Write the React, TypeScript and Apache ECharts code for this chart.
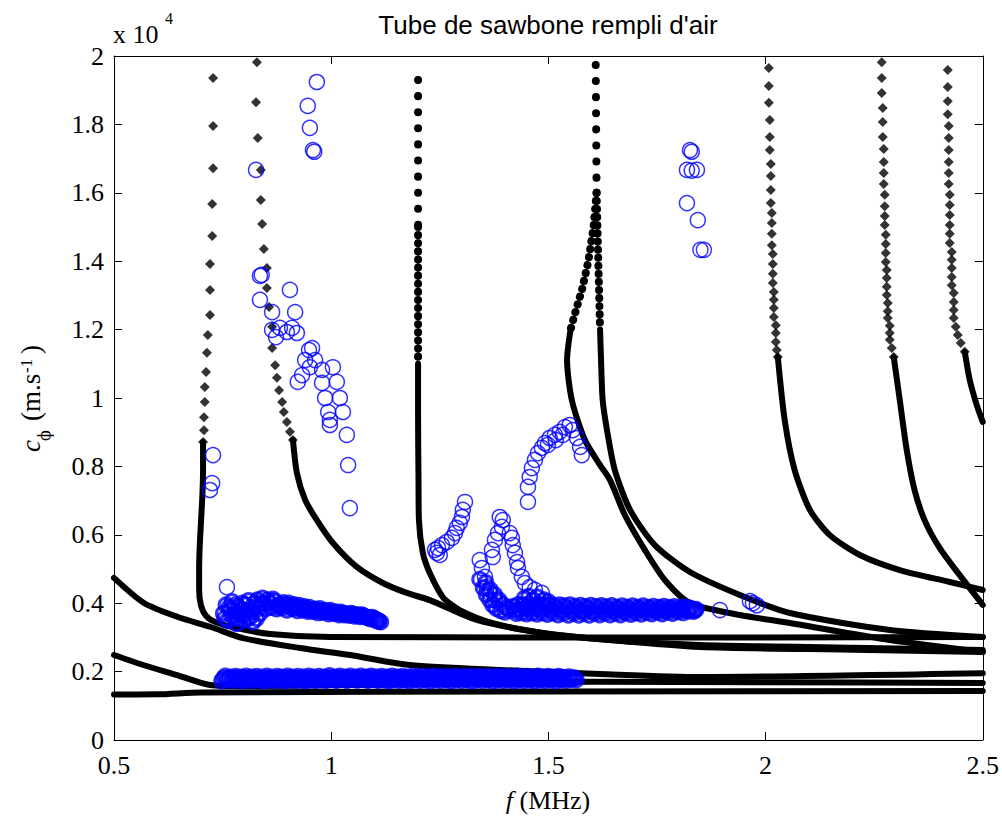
import React, { useEffect, useRef } from "react";
import * as echarts from "echarts";

const TITLE = "Tube de sawbone rempli d'air";
const X_MIN = 0.5, X_MAX = 2.5, X_STEP = 0.5;
const Y_MIN = 0, Y_MAX = 20000, Y_STEP = 2000;

// theoretical dispersion curves [f (MHz), c (m/s)] — individual markers on the steep parts
const dotsK1 = [[0.728,19360],[0.728,17950],[0.728,16720],[0.726,15670],[0.726,14740],[0.721,13920],[0.721,13160],[0.721,12430],[0.716,11840],[0.714,11320],[0.712,10760],[0.709,10320],[0.709,9880],[0.707,9440],[0.707,9060],[0.705,8710]];
const dotsK2 = [[0.829,19820],[0.827,18650],[0.831,17600],[0.838,16670],[0.838,15790],[0.841,15090],[0.845,14360],[0.852,13800],[0.852,13220],[0.857,12660],[0.864,12080],[0.864,11460],[0.871,10960],[0.875,10590],[0.880,10230],[0.887,9880],[0.891,9590],[0.898,9300],[0.905,9010],[0.912,8770]];
const dotsK5 = [[2.0075,19650],[2.0075,19120],[2.0075,18630],[2.0098,18130],[2.0098,17630],[2.0098,17250],[2.0121,16840],[2.0121,16490],[2.0121,16080],[2.0121,15700],[2.0144,15410],[2.0144,15120],[2.0144,14800],[2.0144,14470],[2.0167,14210],[2.0167,13920],[2.0167,13630],[2.0167,13360],[2.0190,13100],[2.0190,12870],[2.0190,12630],[2.0190,12370],[2.0236,12130],[2.0236,11900],[2.0236,11640],[2.0259,11400],[2.0282,11200]];
const dotsK6 = [[2.2675,19820],[2.2675,19360],[2.2675,18920],[2.2698,18480],[2.2698,18070],[2.2698,17630],[2.2721,17280],[2.2721,16900],[2.2721,16580],[2.2721,16260],[2.2744,15940],[2.2744,15610],[2.2744,15320],[2.2744,15060],[2.2767,14770],[2.2767,14500],[2.2767,14240],[2.2767,13980],[2.2790,13740],[2.2790,13510],[2.2790,13250],[2.2790,13010],[2.2813,12780],[2.2813,12540],[2.2813,12340],[2.2859,12110],[2.2859,11900],[2.2859,11700],[2.2905,11460],[2.2951,11200]];
const dotsK7 = [[2.4194,19590],[2.4194,19090],[2.4194,18680],[2.4194,18300],[2.4217,17950],[2.4217,17600],[2.4217,17250],[2.4217,16900],[2.4217,16580],[2.4217,16260],[2.4240,15940],[2.4240,15640],[2.4240,15350],[2.4240,15060],[2.4240,14800],[2.4240,14530],[2.4286,14270],[2.4286,14040],[2.4286,13800],[2.4286,13540],[2.4286,13300],[2.4333,13070],[2.4333,12810],[2.4333,12570],[2.4333,12340],[2.4379,12080],[2.4424,11840],[2.4494,11610],[2.4586,11350]];
// upper parts where the markers are sparse, then where they get closer
const sparseK3 = [[1.200,19300],[1.200,17000],[1.200,15000]];
const closeK3 = [[1.200,15000],[1.200,13000],[1.200,11000]];
const sparseK4 = [[1.609,19740],[1.610,18000],[1.611,16000]];
const closeK4a = [[1.611,16000],[1.604,15000],[1.592,14000],[1.578,13200],[1.562,12500],[1.551,12000]];
const closeK4b = [[1.611,16000],[1.613,15000],[1.615,14000],[1.617,13000],[1.619,12000]];
// dense parts (continuous thick lines)
const lineA = [[0.5,1330],[0.6,1335],[0.7,1390],[1.5,1420],[2.5,1430]];
const lineB = [[0.5,2485],[0.567,2193],[0.645,1900],[0.721,1610],[0.8,1580],[1.0,1600],[1.3,1650],[1.6,1700],[2.0,1690],[2.5,1670]];
const lineC = [[0.5,4740],[0.569,4006],[0.647,3597],[0.723,3304],[0.797,2980],[0.928,2690],[1.043,2485],[1.181,2193],[1.388,2047],[1.619,1930],[1.849,1842],[2.5,1950]];
const lineK1 = [[0.705,8710],[0.705,7890],[0.703,7020],[0.698,5850],[0.696,5060],[0.696,4390],[0.700,3950],[0.712,3630],[0.733,3450],[0.783,3270],[0.859,3100],[0.997,3010],[1.5,3000],[2.0,3000],[2.5,3010]];
const lineK2 = [[0.912,8770],[0.921,7810],[0.940,7020],[0.967,6430],[1.004,5760],[1.059,5060],[1.119,4590],[1.174,4300],[1.227,4090],[1.335,3510],[1.487,3130],[1.642,2924],[1.849,2720],[2.2,2640],[2.5,2573]];
const lineK3 = [[1.200,11000],[1.200,9500],[1.201,7600],[1.202,6430],[1.211,5470],[1.227,4880],[1.257,4180],[1.296,3800],[1.372,3420],[1.487,3130],[1.642,2924],[1.849,2780],[2.2,2700],[2.5,2630]];
const lineK4a = [[1.551,12000],[1.543,11110],[1.554,9940],[1.584,8770],[1.619,8040],[1.642,7600],[1.676,6580],[1.722,5560],[1.768,4680],[1.826,4006],[1.941,3655],[2.056,3421],[2.286,2924],[2.5,2573]];
const lineK4b = [[1.619,12000],[1.621,11200],[1.625,9940],[1.635,9060],[1.653,7890],[1.688,6730],[1.745,5700],[1.826,4912],[1.941,4240],[2.056,3713],[2.286,3216],[2.5,3012]];
const lineK5 = [[2.0282,11200],[2.044,9360],[2.067,7890],[2.102,6730],[2.148,5990],[2.217,5410],[2.309,4970],[2.424,4620],[2.5,4386]];
const lineK6 = [[2.2951,11200],[2.309,9940],[2.325,8480],[2.343,7310],[2.366,6430],[2.401,5610],[2.447,4820],[2.5,3950]];
const lineK7 = [[2.4586,11350],[2.470,10530],[2.486,9800],[2.5,9300]];

// measured points [f (MHz), c (m/s)]
const meas1 = [[0.748,1730],[0.756,1870],[0.764,1800],[0.772,1740],[0.780,1860],[0.788,1790],[0.796,1730],[0.804,1870],[0.812,1800],[0.820,1740],[0.828,1860],[0.836,1790],[0.844,1730],[0.852,1870],[0.860,1800],[0.868,1740],[0.876,1860],[0.884,1790],[0.892,1730],[0.900,1870],[0.908,1800],[0.916,1740],[0.924,1860],[0.932,1790],[0.940,1730],[0.948,1870],[0.956,1800],[0.964,1740],[0.972,1860],[0.980,1790],[0.988,1740],[0.996,1880],[1.004,1800],[1.012,1740],[1.020,1870],[1.028,1800],[1.036,1740],[1.044,1870],[1.052,1800],[1.060,1750],[1.068,1870],[1.076,1800],[1.084,1740],[1.092,1870],[1.100,1800],[1.108,1740],[1.116,1860],[1.124,1790],[1.132,1730],[1.140,1870],[1.148,1800],[1.156,1740],[1.164,1860],[1.172,1790],[1.180,1730],[1.188,1870],[1.196,1800],[1.204,1740],[1.212,1860],[1.220,1790],[1.228,1730],[1.236,1870],[1.244,1800],[1.252,1740],[1.260,1860],[1.268,1790],[1.276,1730],[1.284,1870],[1.292,1800],[1.300,1740],[1.308,1860],[1.316,1790],[1.324,1730],[1.332,1870],[1.340,1800],[1.348,1740],[1.356,1860],[1.364,1790],[1.372,1730],[1.380,1870],[1.388,1800],[1.396,1740],[1.404,1860],[1.412,1790],[1.420,1730],[1.428,1870],[1.436,1800],[1.444,1740],[1.452,1860],[1.460,1790],[1.468,1730],[1.476,1870],[1.484,1800],[1.492,1740],[1.500,1860],[1.508,1790],[1.516,1730],[1.524,1860],[1.532,1790],[1.540,1740],[1.548,1850],[1.556,1790],[1.564,1760]];
const meas1b = [[0.752,1800],[0.760,1760],[0.768,1840],[0.776,1800],[0.784,1760],[0.792,1840],[0.800,1800],[0.808,1760],[0.816,1840],[0.824,1800],[0.832,1760],[0.840,1840],[0.848,1800],[0.856,1760],[0.864,1840],[0.872,1800],[0.880,1760],[0.888,1840],[0.896,1800],[0.904,1760],[0.912,1840],[0.920,1800],[0.928,1760],[0.936,1840],[0.944,1800],[0.952,1760],[0.960,1840],[0.968,1800],[0.976,1760],[0.984,1840],[0.992,1800],[1.000,1770],[1.008,1840],[1.016,1810],[1.024,1770],[1.032,1840],[1.040,1810],[1.048,1770],[1.056,1840],[1.064,1810],[1.072,1770],[1.080,1840],[1.088,1810],[1.096,1770],[1.104,1840],[1.112,1800],[1.120,1760],[1.128,1840],[1.136,1800],[1.144,1760],[1.152,1840],[1.160,1800],[1.168,1760],[1.176,1840],[1.184,1800],[1.192,1760],[1.200,1840],[1.208,1800],[1.216,1760],[1.224,1840],[1.232,1800],[1.240,1760],[1.248,1840],[1.256,1800],[1.264,1760],[1.272,1840],[1.280,1800],[1.288,1760],[1.296,1840],[1.304,1800],[1.312,1760],[1.320,1840],[1.328,1800],[1.336,1760],[1.344,1840],[1.352,1800],[1.360,1760],[1.368,1840],[1.376,1800],[1.384,1760],[1.392,1840],[1.400,1800],[1.408,1760],[1.416,1840],[1.424,1800],[1.432,1760],[1.440,1840],[1.448,1800],[1.456,1760],[1.464,1840],[1.472,1800],[1.480,1760],[1.488,1840],[1.496,1800],[1.504,1760],[1.512,1840],[1.520,1800],[1.528,1760],[1.536,1830],[1.544,1800],[1.552,1770],[1.560,1820]];
const meas2 = [[0.752,3700],[0.758,3950],[0.762,3500],[0.768,3800],[0.772,4050],[0.776,3600],[0.782,3400],[0.786,3900],[0.790,3700],[0.796,4000],[0.800,3500],[0.806,3800],[0.810,4080],[0.814,3600],[0.820,3450],[0.826,3900],[0.830,4100],[0.836,3700],[0.842,4150],[0.850,3840],[0.858,4000],[0.866,4120],[0.874,3830],[0.882,3960],[0.890,4020],[0.898,3800],[0.906,3900],[0.914,3960],[0.922,3780],[0.930,3860],[0.938,3900],[0.946,3760],[0.954,3800],[0.962,3830],[0.970,3720],[0.978,3770],[0.986,3790],[0.994,3690],[1.002,3730],[1.010,3750],[1.018,3660],[1.026,3700],[1.034,3690],[1.042,3640],[1.050,3680],[1.058,3660],[1.066,3610],[1.074,3640],[1.082,3590],[1.090,3540],[1.098,3560],[1.104,3490],[1.110,3470],[1.114,3450]];
const meas2b = [[0.755,3560],[0.765,3880],[0.770,3650],[0.779,3950],[0.784,3550],[0.793,3820],[0.798,3650],[0.803,3950],[0.808,3550],[0.817,3750],[0.823,4000],[0.828,3550],[0.834,3850],[0.839,4000],[0.846,3980],[0.854,4100],[0.862,3880],[0.870,4060],[0.878,3920],[0.886,3860],[0.894,3940],[0.902,4000],[0.910,3850],[0.918,3880],[0.926,3940],[0.934,3800],[0.942,3850],[0.950,3880],[0.958,3760],[0.966,3800],[0.974,3840],[0.982,3730],[0.990,3760],[0.998,3790],[1.006,3700],[1.014,3720],[1.022,3740],[1.030,3660],[1.038,3680],[1.046,3700],[1.054,3620],[1.062,3650],[1.070,3660],[1.078,3600],[1.086,3580],[1.094,3590],[1.102,3530],[1.108,3500]];
const meas3 = [[0.728,8330],[0.726,7510],[0.721,7310],[0.760,4470]];
const meas4 = [[0.967,19240],[0.946,18540],[0.951,17900],[0.958,17250],[0.961,17200],[0.827,16670]];
const meas5 = [[0.836,13570],[0.840,13600],[0.905,13160],[0.836,12870],[0.864,12510],[0.917,12510],[0.864,11990],[0.882,12050],[0.898,11930],[0.910,12050],[0.873,11780],[0.921,11900],[0.949,11400],[0.956,11460],[0.940,11110],[0.963,11110],[0.951,10900],[0.923,10470],[0.933,10670],[1.004,10900],[0.979,10820],[1.013,10470],[0.979,10440],[0.986,10000],[1.020,10000],[0.993,9590],[1.027,9590],[0.997,9360],[0.997,9210],[1.036,8920],[1.039,8040],[1.043,6780]];
const meas6 = [[1.308,6960],[1.303,6730],[1.301,6520],[1.296,6350],[1.289,6200],[1.285,6050],[1.278,5910],[1.266,5790],[1.255,5700],[1.246,5610],[1.239,5560],[1.243,5470],[1.250,5410]];
const meas7 = [[1.388,6520],[1.395,6430],[1.393,6230],[1.384,6050],[1.377,5850],[1.370,5560],[1.372,5350],[1.342,5260],[1.347,5030],[1.354,4770],[1.358,4470],[1.365,4300],[1.377,4090],[1.388,4010],[1.404,3890],[1.411,3800],[1.411,6050],[1.416,5910],[1.418,5700],[1.423,5470],[1.428,5200],[1.430,5030],[1.439,4770],[1.446,4590],[1.457,4470],[1.469,4390],[1.485,4300]];
const meas7b = [[1.342,4700],[1.350,4450],[1.357,4250],[1.365,4100],[1.372,3950],[1.380,3850],[1.390,3780],[1.400,3740],[1.356,4600],[1.366,4400],[1.376,4250],[1.386,4100],[1.396,3950],[1.405,3850],[1.445,4150],[1.455,4200],[1.465,4100],[1.475,4180],[1.490,4100],[1.500,4050]];
const meas8 = [[1.418,3900],[1.426,3700],[1.434,3820],[1.442,3950],[1.450,3690],[1.458,3820],[1.466,3940],[1.474,3680],[1.482,3810],[1.490,3940],[1.498,3670],[1.506,3800],[1.514,3930],[1.522,3660],[1.530,3790],[1.538,3920],[1.546,3650],[1.554,3780],[1.562,3910],[1.570,3650],[1.578,3780],[1.586,3900],[1.594,3650],[1.602,3770],[1.610,3900],[1.618,3660],[1.626,3780],[1.634,3890],[1.642,3660],[1.650,3780],[1.658,3880],[1.666,3660],[1.674,3770],[1.682,3880],[1.690,3670],[1.698,3780],[1.706,3880],[1.714,3680],[1.722,3790],[1.730,3880],[1.738,3690],[1.746,3790],[1.754,3880],[1.762,3690],[1.770,3790],[1.778,3880],[1.786,3700],[1.794,3790],[1.802,3870],[1.810,3720],[1.818,3800],[1.826,3860],[1.834,3760],[1.840,3820]];
const meas8b = [[1.422,3800],[1.430,3960],[1.438,3720],[1.446,3860],[1.454,3970],[1.462,3720],[1.470,3860],[1.478,3960],[1.486,3720],[1.494,3860],[1.502,3960],[1.510,3720],[1.518,3850],[1.526,3950],[1.534,3710],[1.542,3850],[1.550,3950],[1.558,3710],[1.566,3840],[1.574,3940],[1.582,3710],[1.590,3840],[1.598,3940],[1.606,3710],[1.614,3840],[1.622,3930],[1.630,3710],[1.638,3830],[1.646,3930],[1.654,3710],[1.662,3830],[1.670,3920],[1.678,3720],[1.686,3830],[1.694,3920],[1.702,3720],[1.710,3830],[1.718,3920],[1.726,3730],[1.734,3830],[1.742,3910],[1.750,3740],[1.758,3830],[1.766,3910],[1.774,3740],[1.782,3830],[1.790,3900],[1.798,3750],[1.806,3830],[1.814,3890],[1.822,3770],[1.830,3830],[1.838,3800]];
const meas8c = [[1.895,3800],[1.964,4060],[1.971,4000],[1.980,3940]];
const meas9 = [[1.453,6960],[1.453,7400],[1.457,7690],[1.462,7950],[1.469,8190],[1.476,8390],[1.485,8540],[1.492,8680],[1.503,8830],[1.515,8920],[1.526,9010],[1.538,9150],[1.549,9210],[1.556,9060],[1.566,8830],[1.573,8570],[1.577,8330],[1.499,8630],[1.517,8770],[1.533,8920]];
const meas10 = [[1.826,17250],[1.830,17200],[1.819,16670],[1.842,16670],[1.830,16650],[1.819,15700],[1.844,15200],[1.850,14330],[1.858,14330]];

const DOTS = [dotsK1, dotsK2, dotsK5, dotsK6, dotsK7];
const SPARSE_TOPS = [sparseK3, sparseK4];
const CLOSE_TOPS = [closeK3, closeK4a, closeK4b];
const LINES = [lineA, lineB, lineC, lineK1, lineK2, lineK3, lineK4a, lineK4b, lineK5, lineK6, lineK7];
const MEAS_DENSE = [meas1, meas1b, meas2, meas2b, meas7b, meas8, meas8b];
const MEAS_SPARSE = [meas3, meas4, meas5, meas6, meas7, meas8c, meas9, meas10];

export default function App() {
  const ref = useRef<HTMLDivElement>(null);
  useEffect(() => {
    if (!ref.current) return;
    const chart = echarts.init(ref.current, undefined, { renderer: "svg" });
    const serif = '"Liberation Serif", "Times New Roman", serif';
    const axisCommon = {
      type: "value" as const,
      axisLine: { show: true, onZero: false, lineStyle: { color: "#000", width: 1 } },
      axisTick: { show: true, inside: true, length: 8, lineStyle: { color: "#000", width: 1 } },
      splitLine: { show: false },
    };
    const series: any[] = [];
    LINES.forEach((d) =>
      series.push({
        type: "line", data: d, showSymbol: false, silent: true, z: 2, smooth: 0.25,
        lineStyle: { color: "#000", width: 6, cap: "round", join: "round" },
      })
    );
    SPARSE_TOPS.forEach((d) =>
      series.push({
        type: "line", data: d, showSymbol: false, silent: true, z: 2,
        lineStyle: { color: "#000", width: 8, type: [0.1, 16], cap: "round" },
      })
    );
    CLOSE_TOPS.forEach((d) =>
      series.push({
        type: "line", data: d, showSymbol: false, silent: true, z: 2,
        lineStyle: { color: "#000", width: 8, type: [0.1, 8], cap: "round" },
      })
    );
    series.push({
      type: "scatter", data: DOTS.flat(), symbol: "diamond", symbolSize: 10, silent: true, z: 3,
      itemStyle: { color: "#000" },
    });
    series.push({
      type: "scatter", data: MEAS_DENSE.flat(), symbol: "circle", symbolSize: 14, silent: true, z: 5,
      itemStyle: { color: "rgba(0,0,0,0)", borderColor: "#0000ff", borderWidth: 3 },
    });
    series.push({
      type: "scatter", data: MEAS_SPARSE.flat(), symbol: "circle", symbolSize: 15, silent: true, z: 5,
      itemStyle: { color: "rgba(0,0,0,0)", borderColor: "#0000ff", borderWidth: 1.5 },
    });
    const txt = (extra: any) => ({ fill: "#000", textAlign: "left", textVerticalAlign: "middle", align: "left", verticalAlign: "middle", ...extra });
    chart.setOption({
      animation: false,
      backgroundColor: "#fff",
      grid: { left: 114, top: 56, right: 19, bottom: 76, containLabel: false },
      xAxis: [
        {
          ...axisCommon, position: "bottom", min: X_MIN, max: X_MAX, interval: X_STEP,
          axisLabel: { show: true, margin: 12, color: "#000", fontFamily: serif, fontSize: 26 },
        },
        { ...axisCommon, position: "top", min: X_MIN, max: X_MAX, interval: X_STEP, axisLabel: { show: false } },
      ],
      yAxis: [
        {
          ...axisCommon, position: "left", min: Y_MIN, max: Y_MAX, interval: Y_STEP,
          axisLabel: { show: true, margin: 10, color: "#000", fontFamily: serif, fontSize: 26, formatter: (v: number) => String(v / 10000) },
        },
        { ...axisCommon, position: "right", min: Y_MIN, max: Y_MAX, interval: Y_STEP, axisLabel: { show: false } },
      ],
      graphic: [
        { type: "text", x: 548, y: 25, style: txt({ text: TITLE, fontFamily: '"Liberation Sans", Arial, sans-serif', fontSize: 26, textAlign: "center", align: "center" }) },
        { type: "text", x: 113, y: 34, style: txt({ text: "x 10", fontFamily: serif, fontSize: 26 }) },
        { type: "text", x: 165, y: 18, style: txt({ text: "4", fontFamily: serif, fontSize: 16 }) },
        {
          type: "text", x: 548, y: 800,
          style: txt({
            text: "{i|f}{n| (MHz)}", textAlign: "center", align: "center",
            rich: { i: { fontFamily: serif, fontSize: 26, fontStyle: "italic", fill: "#000" }, n: { fontFamily: serif, fontSize: 26, fill: "#000" } },
          }),
        },
        {
          type: "group", x: 40, y: 452, rotation: Math.PI / 2,
          children: [
            { type: "text", x: 0, y: -9, style: txt({ text: "c", fontFamily: serif, fontSize: 27, fontStyle: "italic" }) },
            { type: "text", x: 11, y: 4, style: txt({ text: "\u03d5", fontFamily: '"DejaVu Serif", serif', fontSize: 16 }) },
            { type: "text", x: 31, y: -9, style: txt({ text: "(m.s", fontFamily: serif, fontSize: 27 }) },
            { type: "text", x: 79, y: -14, style: txt({ text: "-1", fontFamily: serif, fontSize: 17 }) },
            { type: "text", x: 98, y: -9, style: txt({ text: ")", fontFamily: serif, fontSize: 27 }) },
          ],
        },
      ],
      series,
    });
    return () => chart.dispose();
  }, []);
  return <div ref={ref} style={{ position: "fixed", left: 0, top: 0, width: 1002, height: 816 }} />;
}
